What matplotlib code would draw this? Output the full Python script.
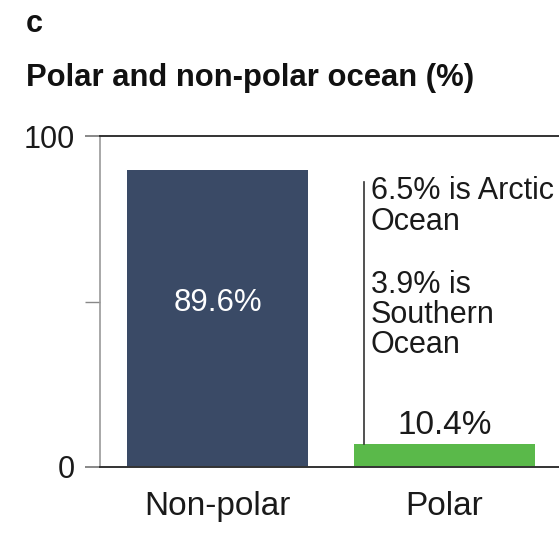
import matplotlib
matplotlib.use("Agg")
import matplotlib.pyplot as plt

plt.rcParams['font.family'] = ['Liberation Sans', 'DejaVu Sans']

categories = ["Non-polar", "Polar"]
bar_heights = [89.6, 6.9]          # drawn bar heights (as in the picture)
bar_labels = ["89.6%", "10.4%"]
bar_colors = ["#3a4a66", "#5ab94a"]
yticks = [0, 50, 100]
ytick_labels = ["0", "", "100"]
arctic_note = "6.5% is Arctic\nOcean"
southern_note = "3.9% is\nSouthern\nOcean"

W, H = 559, 535
fig = plt.figure(figsize=(W / 100, H / 100), dpi=100)
ax = fig.add_axes([100 / W, 1 - 467 / H, 1 - 100 / W, (467 - 136) / H])

x = list(range(len(categories)))
ax.bar(x, bar_heights, width=0.8, color=bar_colors)
ax.set_xlim(-0.518, 1.506)
ax.set_ylim(0, 100)

ax.set_xticks(x)
ax.set_xticklabels(categories, fontsize=24, color="#1a1a1a")
ax.tick_params(axis='x', length=0, pad=17)
ax.set_yticks(yticks)
ax.set_yticklabels(ytick_labels, fontsize=22, color="#1a1a1a")
ax.tick_params(axis='y', length=11, width=1.0, color="#888888", pad=7)

for s in ['top', 'bottom']:
    ax.spines[s].set_color("#333333")
    ax.spines[s].set_linewidth(1.4)
ax.spines['left'].set_color("#999999")
ax.spines['left'].set_linewidth(1.2)
ax.spines['right'].set_visible(False)

# darker tick marks at 0 and 100 to join top/bottom lines
for t in ax.yaxis.get_major_ticks():
    if t.get_loc() in (0, 100):
        t.tick1line.set_color("#333333")
        t.tick1line.set_markeredgewidth(1.4)

# value labels
ax.text(x[0], 47.2, bar_labels[0], color="white", fontsize=22.5,
        ha='center', va='baseline')
ax.text(x[1], 10.0, bar_labels[1], color="#1a1a1a", fontsize=24,
        ha='center', va='baseline')

# annotation line and notes
ax.plot([0.645, 0.645], [bar_heights[1], 86.2], color="#333333", lw=1.2)
ax.text(0.675, 88.0, arctic_note, fontsize=22, color="#1a1a1a",
        ha='left', va='top', linespacing=1.05)
ax.text(0.675, 59.4, southern_note, fontsize=22, color="#1a1a1a",
        ha='left', va='top', linespacing=1.0)

fig.text(26 / W, 1 - 32 / H, "c", fontsize=22, fontweight='bold',
         ha='left', va='baseline', color="#111111")
fig.text(26 / W, 1 - 86 / H, "Polar and non-polar ocean (%)", fontsize=22.3,
         fontweight='bold', ha='left', va='baseline', color="#111111")

fig.savefig("out.png", dpi=100)
